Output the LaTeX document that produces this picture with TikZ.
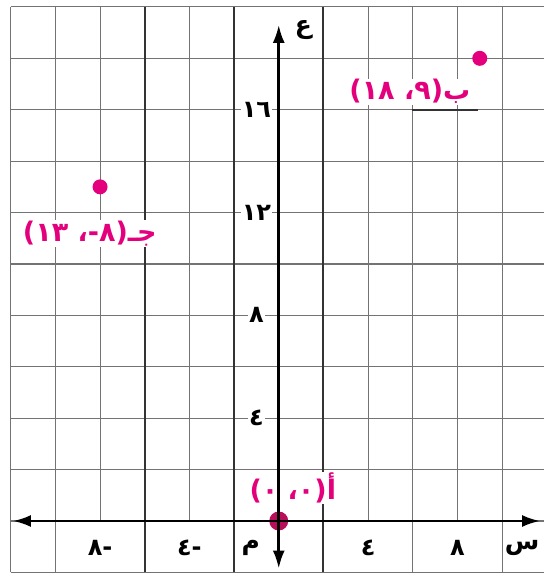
\documentclass[tikz,border=0pt]{standalone}
\usepackage{fontspec}
\newfontfamily\arabicfont[Script=Arabic]{DejaVu Sans}
\TeXXeTstate=1
\usetikzlibrary{arrows.meta}
\definecolor{pointpink}{RGB}{228,0,124}
\definecolor{origindot}{RGB}{185,15,90}
\definecolor{gridgray}{RGB}{115,115,115}
% visual "digit then minus" (minus on the right, as printed)
\newcommand{\negnum}[1]{\hbox{#1}\hbox{-}}
\begin{document}
\begin{tikzpicture}[x=22.35pt,y=25.72pt,
  gridline/.style={draw=gridgray,line width=1.1pt},
  darkline/.style={draw=black!80,line width=1.9pt},
  axisline/.style={line width=2.6pt,-{Latex[length=18pt,width=12pt]}},
  axisname/.style={font=\arabicfont\bfseries\fontsize{25}{29}\selectfont,inner sep=1pt},
  ticklabel/.style={font=\arabicfont\bfseries\fontsize{24}{28}\selectfont,inner sep=1pt},
  yticklabel/.style={ticklabel,fill=white},
  ptlabel/.style={font=\arabicfont\bfseries\fontsize{27}{31}\selectfont,text=pointpink,fill=white,inner sep=1pt},
  ptdot/.style={circle,fill=pointpink,inner sep=0pt,minimum size=15pt}]
\useasboundingbox (-12.48,-2.14) rectangle (11.86,20.27);
% grid: horizontal lines
\foreach \yy in {-2,0,...,20} {\draw[gridline] (-12,\yy) -- (12.5,\yy);}
% grid: vertical lines
\foreach \xx in {-12,-10,12} {\draw[gridline] (\xx,-2) -- (\xx,20);}
\foreach \xx in {6,10} {\draw[gridline] (\xx,-2) -- (\xx,20);}
\foreach \xx in {-8,-4,4,8} {\draw[gridline] (\xx,0) -- (\xx,20);}
\foreach \xx in {-6,-2,2} {\draw[darkline] (\xx,-2) -- (\xx,20);}
\draw[darkline] (5.95,16) -- (8.9,16);
% tick labels
\node[ticklabel] (xm8) at (-8,-1.05) {\negnum{٨}};
\node[ticklabel] (xm4) at (-4,-1.05) {\negnum{٤}};
\node[ticklabel] (xp4) at (4,-1.05) {٤};
\node[ticklabel] (xp8) at (8,-1.05) {٨};
\node[yticklabel] (y4) at (-1.0,4) {٤};
\node[yticklabel] (y8) at (-1.0,8) {٨};
\node[yticklabel] (y12) at (-1.0,12) {١٢};
\node[yticklabel] (y16) at (-1.0,16) {١٦};
% axis names
\node[axisname] (sname) at (10.9,-1.05) {س};
\node[axisname] (ename) at (1.1,19.1) {ع};
\node[axisname] (mname) at (-1.25,-1.05) {م};
% point labels
\node[ptlabel] (Alabel) at (0.63,1.28) {\beginR أ(٠، ٠)\endR};
\node[ptlabel] (Blabel) at (5.87,16.7) {\beginR ب(٩، ١٨)\endR};
\node[ptlabel] (Clabel) at (-8.46,11.2) {\beginR جـ(\hbox{\negnum{٨}}، ١٣)\endR};
% points
\node[ptdot,fill=origindot,minimum size=19pt] (O) at (0,0) {};
\node[ptdot] (B) at (9,18) {};
\node[ptdot] (C) at (-8,13) {};
% axes
\coordinate (xl) at (-11.9,0);
\coordinate (xr) at (11.7,0);
\coordinate (yb) at (0,-1.85);
\coordinate (yt) at (0,19.3);
\draw[axisline] (O.center) -- (xr);
\draw[axisline] (O.center) -- (xl);
\draw[axisline] (O.center) -- (yt);
\draw[axisline] (O.center) -- (yb);
\end{tikzpicture}
\end{document}
